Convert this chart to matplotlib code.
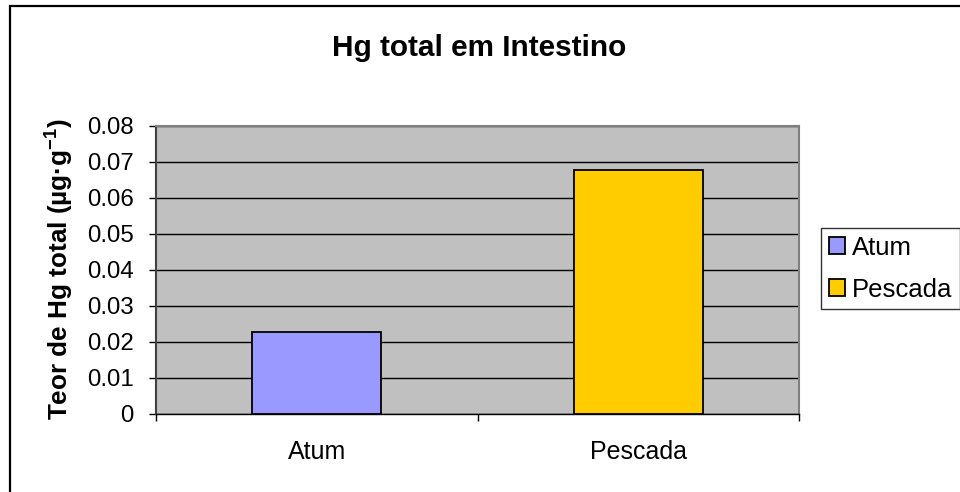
import matplotlib
matplotlib.use("Agg")
import matplotlib.pyplot as plt
from matplotlib.patches import Rectangle
from matplotlib.ticker import FixedLocator

plt.rcParams['font.family'] = ['Liberation Sans', 'DejaVu Sans']
plt.rcParams['mathtext.fontset'] = 'custom'
plt.rcParams['mathtext.rm'] = 'Liberation Sans'
plt.rcParams['mathtext.bf'] = 'Liberation Sans:bold'

categories = ["Atum", "Pescada"]
values = [0.0228, 0.0678]
colors = ["#9999FF", "#FFCC00"]
yticks = [0, 0.01, 0.02, 0.03, 0.04, 0.05, 0.06, 0.07, 0.08]
ytick_labels = ["0", "0.01", "0.02", "0.03", "0.04", "0.05", "0.06", "0.07", "0.08"]
title = "Hg total em Intestino"
ylabel = r"Teor de Hg total (µg·g$^{\mathbf{-1}}$)"

W, H = 960, 492
fig = plt.figure(figsize=(W / 100, H / 100), dpi=100)
fig.patch.set_facecolor("white")

def fx(px):
    return px / W

def fy(py):
    return 1 - py / H

# outer chart frame (only left/top visible)
fig.patches.append(Rectangle((fx(10), fy(1000)), 2.0, fy(6) - fy(1000),
                             transform=fig.transFigure, fill=False,
                             edgecolor="black", linewidth=1.6, zorder=0))

ax = fig.add_axes([fx(156), fy(414), fx(799) - fx(156), fy(126) - fy(414)])
ax.set_facecolor("#C0C0C0")
ax.set_axisbelow(True)

x = list(range(len(categories)))
bars = ax.bar(x, values, width=0.4, color=colors, edgecolor="black",
              linewidth=1.3, zorder=3)

ax.set_xlim(-0.5, 1.5)
ax.set_ylim(0, 0.08)
ax.set_yticks(yticks)
ax.set_yticklabels(ytick_labels)
ax.yaxis.grid(True, color="black", linewidth=1.0)
ax.set_xticks(x)
ax.set_xticklabels(categories)
ax.xaxis.set_minor_locator(FixedLocator([-0.5, 0.5, 1.5]))
ax.tick_params(axis="x", which="major", length=0, pad=19, labelsize=18)
ax.tick_params(axis="x", which="minor", length=5, width=1, color="black")
ax.tick_params(axis="y", length=5, width=1, pad=11, labelsize=17.3)

for side in ["top", "right"]:
    ax.spines[side].set_color("#808080")
    ax.spines[side].set_linewidth(1.5)
ax.spines["left"].set_color("#404040")
ax.spines["left"].set_linewidth(1.5)
ax.spines["bottom"].set_color("black")
ax.spines["bottom"].set_linewidth(1.0)

fig.text(fx(479), fy(48), title, ha="center", va="center",
         fontsize=21.4, fontweight="bold")
fig.text(fx(59), fy(269), ylabel, ha="center", va="center", rotation=90,
         fontsize=18.8, fontweight="bold")

leg = fig.legend(bars, categories, loc="upper left",
                 bbox_to_anchor=(fx(821), fy(228)), fontsize=18.5,
                 frameon=True, fancybox=False, edgecolor="black",
                 handlelength=0.65, handleheight=0.65, handletextpad=0.25,
                 borderpad=0.3, borderaxespad=0, labelspacing=0.7)
leg.get_frame().set_linewidth(1.0)

fig.savefig("out.png", dpi=100)
